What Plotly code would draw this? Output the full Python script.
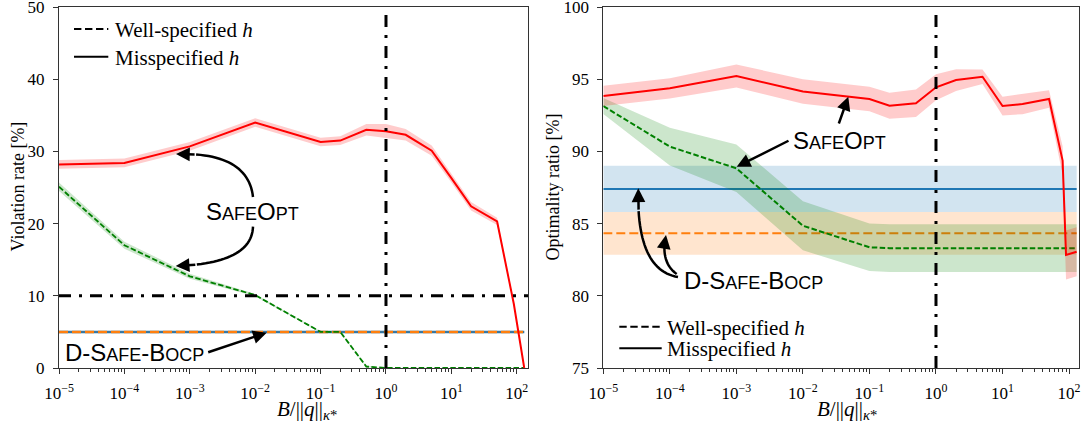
import numpy as np
import plotly.graph_objects as go

# ---------------- data ----------------
B_vals = [1e-5, 1e-4, 1e-3, 1e-2, 1e-1, 0.2, 0.5, 1, 2, 5, 10, 20, 50, 80, 90, 130]

# Violation rate [%]
viol_safeopt_mis = [28.2, 28.4, 30.7, 34.0, 31.3, 31.5, 33.0, 32.8, 32.3, 30.1, 26.3, 22.4, 20.3, 11.3, 8.9, 0.0]
viol_safeopt_mis_std = [0.6, 0.6, 0.6, 0.6, 0.6, 0.6, 0.8, 1.0, 0.8, 0.7, 0.6, 0.6, 0.5, 0.3, 0.3, 0.2]
viol_safeopt_well = [25.1, 17.0, 12.7, 10.1, 5.0, 5.0, 0.2, 0, 0, 0, 0, 0, 0, 0, 0, 0]
viol_safeopt_well_std = [0.6, 0.5, 0.35, 0.15, 0.1, 0.1, 0.1, 0, 0, 0, 0, 0, 0, 0, 0, 0]
dsafe_x = [1e-5, 130]
viol_dsafe_mis = [5.0, 5.0]
viol_dsafe_mis_std = [0.1, 0.1]
viol_dsafe_well = [5.0, 5.0]
viol_dsafe_well_std = [0.1, 0.1]
viol_threshold = [10.0, 10.0]

# Optimality ratio [%]
opt_safeopt_mis = [93.84, 94.37, 95.22, 94.15, 93.63, 93.16, 93.33, 94.44, 94.94, 95.17, 93.14, 93.28, 93.63, 89.36, 82.83, 83.05]
opt_safeopt_mis_std = [0.7, 0.7, 0.8, 0.85, 0.85, 0.9, 0.95, 0.9, 0.75, 0.5, 0.65, 0.7, 0.6, 1.0, 1.7, 1.7]
opt_safeopt_well = [93.14, 90.33, 88.83, 84.85, 83.36, 83.3, 83.3, 83.3, 83.3, 83.3, 83.3, 83.3, 83.3, 83.3, 83.3, 83.3]
opt_safeopt_well_std = [0.55, 1.3, 1.65, 1.7, 1.65, 1.65, 1.65, 1.65, 1.65, 1.65, 1.65, 1.65, 1.65, 1.65, 1.65, 1.65]
opt_dsafe_mis = [87.4, 87.4]
opt_dsafe_mis_std = [1.6, 1.6]
opt_dsafe_well = [84.33, 84.33]
opt_dsafe_well_std = [1.48, 1.48]

B_star = [1.0, 1.0]

x_tickvals = [1e-5, 1e-4, 1e-3, 1e-2, 1e-1, 1e0, 1e1, 1e2]
x_ticktext = ["10<sup>−5</sup>", "10<sup>−4</sup>", "10<sup>−3</sup>", "10<sup>−2</sup>",
              "10<sup>−1</sup>", "10<sup>0</sup>", "10<sup>1</sup>", "10<sup>2</sup>"]
x_minor = [m * 10.0 ** e for e in range(-5, 3) for m in range(2, 10) if m * 10.0 ** e < 150]
viol_ticks = [0, 10, 20, 30, 40, 50]
opt_ticks = [75, 80, 85, 90, 95, 100]
legend_labels = ["Well-specified <i>h</i>", "Misspecified <i>h</i>"]

# ---------------- styles ----------------
RED, GREEN, BLUE, ORANGE = "#ff0000", "#008000", "#1f77b4", "#ff7f0e"
def rgba(h, a):
    h = h.lstrip("#")
    return "rgba(%d,%d,%d,%s)" % (int(h[0:2], 16), int(h[2:4], 16), int(h[4:6], 16), a)

W, H = 1087, 430
ML, MR, MT, MB = 59, 8, 7, 62
PW, PH = W - ML - MR, H - MT - MB
def pp(px, py):
    return (px - ML) / PW, (MT + PH - py) / PH

fig = go.Figure()

def band(x, m, s, color, xa, ya):
    m = np.array(m, float); s = np.array(s, float)
    fig.add_trace(go.Scatter(x=x, y=m + s, mode="lines", line=dict(width=0, color=color),
                             showlegend=False, hoverinfo="skip", xaxis=xa, yaxis=ya))
    fig.add_trace(go.Scatter(x=x, y=m - s, mode="lines", line=dict(width=0, color=color),
                             fill="tonexty", fillcolor=rgba(color, 0.2),
                             showlegend=False, hoverinfo="skip", xaxis=xa, yaxis=ya))

def line(x, y, color, width, dash, xa, ya):
    fig.add_trace(go.Scatter(x=x, y=y, mode="lines", line=dict(color=color, width=width, dash=dash),
                             showlegend=False, xaxis=xa, yaxis=ya))

DASH_G = "5.5px,2.4px"
DASH_O = "9px,4px"
DASH_K = "7.4px,3.6px"
DASHDOT = "12px,8px,3px,8px"

# ---- left panel ----
band(dsafe_x, viol_dsafe_mis, viol_dsafe_mis_std, BLUE, "x", "y")
line(dsafe_x, viol_dsafe_mis, BLUE, 2.5, "solid", "x", "y")
band(dsafe_x, viol_dsafe_well, viol_dsafe_well_std, ORANGE, "x", "y")
line(dsafe_x, viol_dsafe_well, ORANGE, 2.5, DASH_O, "x", "y")
band(B_vals, viol_safeopt_well, viol_safeopt_well_std, GREEN, "x", "y")
line(B_vals, viol_safeopt_well, GREEN, 1.8, DASH_G, "x", "y")
band(B_vals, viol_safeopt_mis, viol_safeopt_mis_std, RED, "x", "y")
line(B_vals, viol_safeopt_mis, RED, 2, "solid", "x", "y")
line([1e-5, 150], viol_threshold, "black", 3, DASHDOT, "x", "y")
line(B_star, [0, 50], "black", 3, DASHDOT, "x", "y")

# ---- right panel ----
band(dsafe_x, opt_dsafe_mis, opt_dsafe_mis_std, BLUE, "x2", "y2")
line(dsafe_x, opt_dsafe_mis, BLUE, 2, "solid", "x2", "y2")
band(dsafe_x, opt_dsafe_well, opt_dsafe_well_std, ORANGE, "x2", "y2")
line(dsafe_x, opt_dsafe_well, ORANGE, 2, DASH_O, "x2", "y2")
band(B_vals, opt_safeopt_well, opt_safeopt_well_std, GREEN, "x2", "y2")
line(B_vals, opt_safeopt_well, GREEN, 2, DASH_G, "x2", "y2")
band(B_vals, opt_safeopt_mis, opt_safeopt_mis_std, RED, "x2", "y2")
line(B_vals, opt_safeopt_mis, RED, 2, "solid", "x2", "y2")
line(B_star, [75, 100], "black", 3, DASHDOT, "x2", "y2")

axis_common = dict(showline=True, linecolor="#333", linewidth=1, mirror=True, showgrid=False,
                   zeroline=False, ticks="outside", ticklen=5, tickcolor="#333",
                   ticklabeloverflow="allow", automargin=False,
                   tickfont=dict(size=17, family="Liberation Serif"))
xaxis_common = dict(axis_common, type="log", tickmode="array", tickvals=x_tickvals, ticktext=x_ticktext,
                    ticklabelstandoff=5,
                    minor=dict(ticks="outside", ticklen=3, tickvals=x_minor, tickcolor="#333", showgrid=False))
yaxis_common = dict(axis_common, ticklabelstandoff=5)

fig.update_layout(
    width=W, height=H, margin=dict(l=ML, r=MR, t=MT, b=MB),
    paper_bgcolor="white", plot_bgcolor="white", showlegend=False,
    font=dict(family="Liberation Serif", size=17, color="black"),
    xaxis=dict(xaxis_common, domain=[0, pp(528.3, 0)[0]], range=[-5, np.log10(150)], anchor="y"),
    yaxis=dict(yaxis_common, range=[0, 50], tickvals=viol_ticks, anchor="x"),
    xaxis2=dict(xaxis_common, domain=[pp(603.3, 0)[0], 1], range=[-5, np.log10(141)], anchor="y2"),
    yaxis2=dict(yaxis_common, range=[75, 100], tickvals=opt_ticks, anchor="x2"),
)

shapes = []
annotations = []

def ann_text(px, py, text, size, family="Liberation Serif", angle=0, xanchor="center"):
    x, y = pp(px, py)
    annotations.append(dict(x=x, y=y, xref="paper", yref="paper", text=text, showarrow=False,
                            xanchor=xanchor, yanchor="middle", textangle=angle,
                            font=dict(size=size, family=family, color="black")))

# legends (drawn as key lines + labels)
def legend_box(x0, x1, xt, rows):
    for (lab, dash), ry in zip(zip(legend_labels, [DASH_K, "solid"]), rows):
        a, b = pp(x0, ry)
        c, _ = pp(x1, ry)
        shapes.append(dict(type="line", xref="paper", yref="paper", x0=a, x1=c, y0=b, y1=b,
                           line=dict(color="black", width=2, dash=dash)))
        ann_text(xt, ry + 1, lab, 21, xanchor="left")

legend_box(74, 108.3, 113, [29, 56.7])
legend_box(619.3, 661.7, 665, [326.7, 348.3])

# axis titles
xlabel = "<i>B</i>/||<i>q</i>||<sub><i>κ</i>*</sub>"
ann_text(307, 410, xlabel, 21)
ann_text(847, 410, xlabel, 21)
ann_text(17.5, 187, "Violation rate [%]", 18, angle=-90)
ann_text(552.5, 187, "Optimality ratio [%]", 18, angle=-90)

# method labels (small caps)
def sc(s):
    return "<span style='font-size:18px'>%s</span>" % s
safeopt = "S" + sc("AFE") + "O" + sc("PT")
dsafe = "D-S" + sc("AFE") + "-B" + sc("OCP")
ann_text(252, 211.7, safeopt, 24, "Liberation Sans")
ann_text(134, 352, dsafe, 24, "Liberation Sans")
ann_text(839, 140, safeopt, 24, "Liberation Sans")
ann_text(753.5, 280, dsafe, 24, "Liberation Sans")

def arrow_head(head, tail):
    x, y = pp(*head)
    annotations.append(dict(x=x, y=y, xref="paper", yref="paper", text="", showarrow=True,
                            ax=tail[0] - head[0], ay=tail[1] - head[1], axref="pixel", ayref="pixel",
                            arrowhead=2, arrowsize=1.1, arrowwidth=2.5, arrowcolor="black", standoff=0))

curves = [((253, 197), (248, 152), (176, 154)),
          ((253, 226.7), (251.7, 263.7), (175.7, 266)),
          ((678, 277), (636, 270), (638.3, 188.3)),
          ((676.7, 274), (660, 262), (666, 235))]
for P0, C, P2 in curves:
    P0, C, P2 = map(np.array, (P0, C, P2))
    ts = np.linspace(0, 0.85, 25)
    pts = [(1 - t) ** 2 * P0 + 2 * (1 - t) * t * C + t ** 2 * P2 for t in ts]
    path = "M " + " L ".join("%.5f,%.5f" % pp(*p) for p in pts)
    shapes.append(dict(type="path", path=path, xref="paper", yref="paper",
                       line=dict(color="black", width=2.5)))
    arrow_head(tuple(P2), tuple(pts[-1]))

straight = [((206.7, 352.7), (266.7, 332.7)),
            ((790, 140), (736.7, 166.7)),
            ((838.3, 125), (848.3, 96.7))]
for tail, head in straight:
    arrow_head(head, tail)

fig.update_layout(shapes=shapes, annotations=annotations)
fig.write_html("out.html")
